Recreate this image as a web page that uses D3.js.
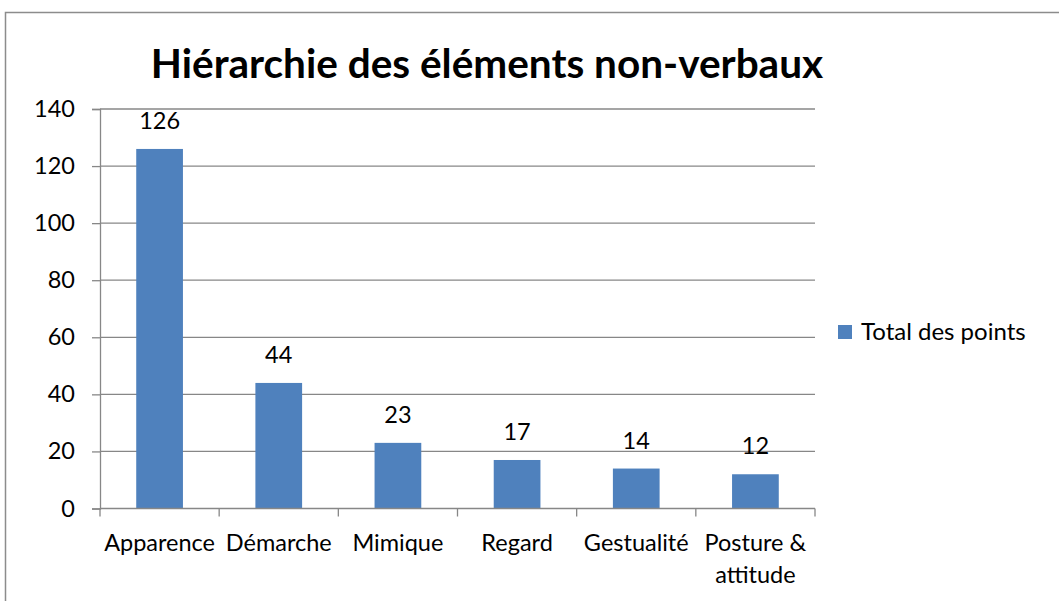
<!DOCTYPE html>
<html>
<head>
<meta charset="utf-8">
<script src="https://cdn.jsdelivr.net/npm/d3@7"></script>
<style>
  html, body { margin: 0; padding: 0; background: #fff; }
  svg { display: block; }
  text { font-family: Lato, "Open Sans", sans-serif; fill: #000; }
</style>
</head>
<body>
<svg id="chart" width="1059" height="601"></svg>
<script>
const title = "Hiérarchie des éléments non-verbaux";
const categories = ["Apparence", "Démarche", "Mimique", "Regard", "Gestualité", "Posture & attitude"];
const categoryLines = [["Apparence"], ["Démarche"], ["Mimique"], ["Regard"], ["Gestualité"], ["Posture &", "attitude"]];
const values = [126, 44, 23, 17, 14, 12];
const seriesName = "Total des points";
const yTicks = [0, 20, 40, 60, 80, 100, 120, 140];

const svg = d3.select("#chart");
const plot = { left: 100, right: 815, top: 109, bottom: 508.5 };
const gridColor = "#878787";
const barColor = "#4F81BD";
const fs = 23.5;

// outer chart border (extends beyond the visible window right/bottom)
svg.append("rect")
  .attr("x", 5.5).attr("y", 12.5)
  .attr("width", 1200).attr("height", 800)
  .attr("fill", "none").attr("stroke", "#8c8c8c").attr("stroke-width", 1.5);

const x = d3.scaleBand().domain(categories).range([plot.left, plot.right]).padding(0);
const y = d3.scaleLinear().domain([0, 140]).range([plot.bottom, plot.top]);

// gridlines
svg.append("g").selectAll("line").data(yTicks.filter(d => d > 0)).join("line")
  .attr("x1", plot.left).attr("x2", plot.right)
  .attr("y1", d => y(d)).attr("y2", d => y(d))
  .attr("stroke", gridColor).attr("stroke-width", 1.3);

// y axis
const yAxis = svg.append("g").attr("transform", `translate(${plot.left},0)`)
  .call(d3.axisLeft(y).tickValues(yTicks).tickSize(8).tickPadding(17).tickFormat(d3.format("d")));
yAxis.select(".domain").attr("stroke", gridColor).attr("stroke-width", 1.3);
yAxis.selectAll(".tick line").attr("stroke", gridColor).attr("stroke-width", 1.3);
yAxis.selectAll(".tick text").attr("font-size", fs).attr("font-family", "Lato, sans-serif").attr("fill", "#000");

// bars
const barW = x.bandwidth() * 0.392;
svg.append("g").selectAll("rect").data(values).join("rect")
  .attr("x", (d, i) => x(categories[i]) + (x.bandwidth() - barW) / 2)
  .attr("width", barW)
  .attr("y", d => y(d))
  .attr("height", d => y(0) - y(d))
  .attr("fill", barColor);

// data labels
svg.append("g").selectAll("text").data(values).join("text")
  .attr("x", (d, i) => x(categories[i]) + x.bandwidth() / 2)
  .attr("y", d => y(d) - 20)
  .attr("text-anchor", "middle")
  .attr("font-size", fs)
  .text(d => d);

// x axis
svg.append("line")
  .attr("x1", plot.left).attr("x2", plot.right)
  .attr("y1", plot.bottom).attr("y2", plot.bottom)
  .attr("stroke", gridColor).attr("stroke-width", 1.3);
const boundaries = categories.map(c => x(c)).concat([plot.right]);
svg.append("g").selectAll("line").data(boundaries).join("line")
  .attr("x1", d => d).attr("x2", d => d)
  .attr("y1", plot.bottom).attr("y2", plot.bottom + 8)
  .attr("stroke", gridColor).attr("stroke-width", 1.3);

// category labels
const catG = svg.append("g").selectAll("text").data(categoryLines).join("text")
  .attr("text-anchor", "middle")
  .attr("font-size", fs);
catG.each(function(lines, i) {
  const t = d3.select(this);
  lines.forEach((ln, j) => {
    t.append("tspan")
      .attr("x", x(categories[i]) + x.bandwidth() / 2)
      .attr("y", 551 + j * 32)
      .text(ln);
  });
});

// title
svg.append("text")
  .attr("x", 487)
  .attr("y", 78)
  .attr("text-anchor", "middle")
  .attr("font-size", 40.5)
  .attr("font-weight", "bold")
  .text(title);

// legend
const lg = svg.append("g").attr("transform", "translate(838,325)");
lg.append("rect").attr("width", 14).attr("height", 14).attr("fill", barColor);
lg.append("text").attr("x", 23).attr("y", 14.5).attr("font-size", 24).text(seriesName);
</script>
</body>
</html>
